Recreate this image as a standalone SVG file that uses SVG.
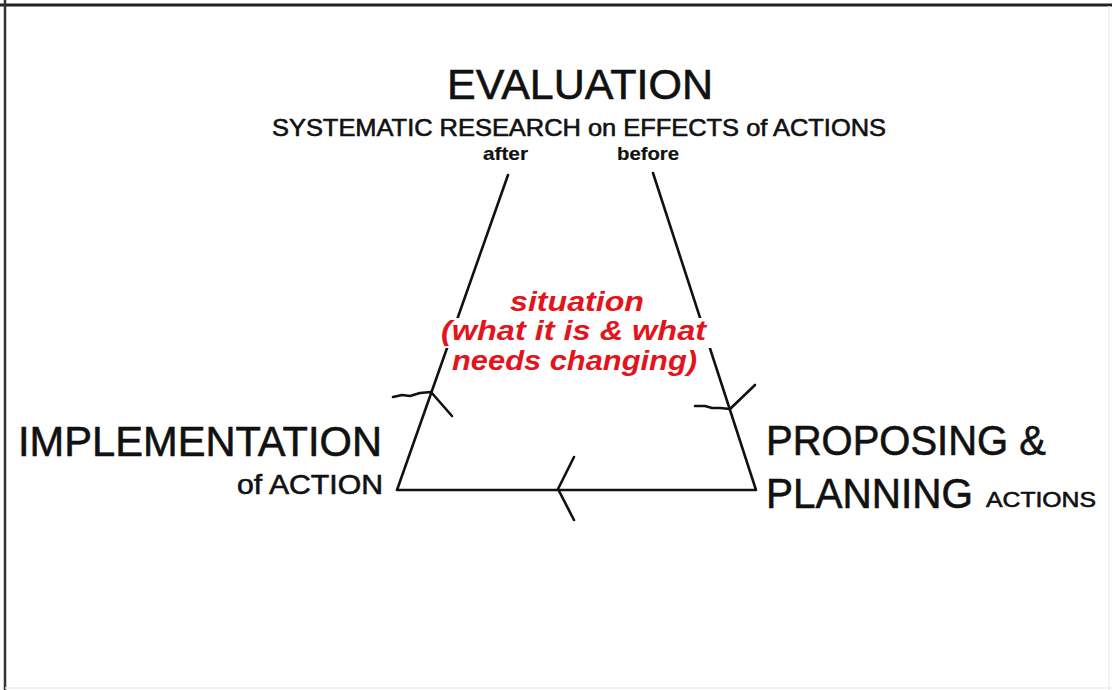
<svg xmlns="http://www.w3.org/2000/svg" width="1112" height="690" viewBox="0 0 1112 690">
<style>
.t{font-family:"Liberation Sans",Arial,sans-serif;fill:#111;stroke:#111;stroke-width:0.6}
.b{font-weight:bold;stroke-width:0.2}
.r{font-family:"Liberation Sans",Arial,sans-serif;font-weight:bold;font-style:italic;fill:#e3141c;font-size:27px}
.ln{stroke:#111;stroke-width:2.6;fill:none;stroke-linecap:round;stroke-linejoin:round}
</style>
<rect width="1112" height="690" fill="#fff"/>
<line x1="0" y1="5" x2="1112" y2="5" stroke="#222" stroke-width="3"/>
<line x1="5" y1="0" x2="5" y2="690" stroke="#333" stroke-width="2.5"/>
<line x1="1109" y1="6" x2="1109" y2="690" stroke="#eee" stroke-width="1.5"/>
<line x1="5" y1="688" x2="1112" y2="688" stroke="#eee" stroke-width="1.5"/>
<g id="connectors">
<path class="ln" d="M508,175 L397,490 L756,490 L653,173"/>
<polyline class="ln" points="393,397 402,395 410,396 420,393 431,392 452,416"/>
<polyline class="ln" points="695,406 705,406 712,408 720,408 730,409 755,385"/>
<polyline class="ln" points="574,457 558,489 574,520"/>
</g>
<g id="evaluation">
<text class="t" x="447" y="99" font-size="42" textLength="266" lengthAdjust="spacingAndGlyphs">EVALUATION</text>
<text class="t" x="272" y="136" font-size="24" textLength="614" lengthAdjust="spacingAndGlyphs">SYSTEMATIC RESEARCH on EFFECTS of ACTIONS</text>
<text class="t b" x="483" y="160" font-size="19" textLength="45" lengthAdjust="spacingAndGlyphs">after</text>
<text class="t b" x="617" y="160" font-size="19" textLength="62" lengthAdjust="spacingAndGlyphs">before</text>
</g>
<g id="situation">
<rect x="436" y="318" width="277" height="30" fill="#fff"/>
<text class="r" x="510" y="311" textLength="134" lengthAdjust="spacingAndGlyphs">situation</text>
<text class="r" x="441" y="340" textLength="265" lengthAdjust="spacingAndGlyphs">(what it is &amp; what</text>
<text class="r" x="452" y="370" textLength="245" lengthAdjust="spacingAndGlyphs">needs changing)</text>
</g>
<g id="implementation">
<text class="t" x="18" y="456" font-size="42" textLength="364" lengthAdjust="spacingAndGlyphs">IMPLEMENTATION</text>
<text class="t" x="237" y="494" font-size="27" textLength="146" lengthAdjust="spacingAndGlyphs">of ACTION</text>
</g>
<g id="proposing">
<text class="t" x="766" y="455" font-size="42" textLength="280" lengthAdjust="spacingAndGlyphs">PROPOSING &amp;</text>
<text class="t" x="766" y="508" font-size="42" textLength="207" lengthAdjust="spacingAndGlyphs">PLANNING</text>
<text class="t" x="986" y="507" font-size="22" textLength="110" lengthAdjust="spacingAndGlyphs">ACTIONS</text>
</g>
</svg>
